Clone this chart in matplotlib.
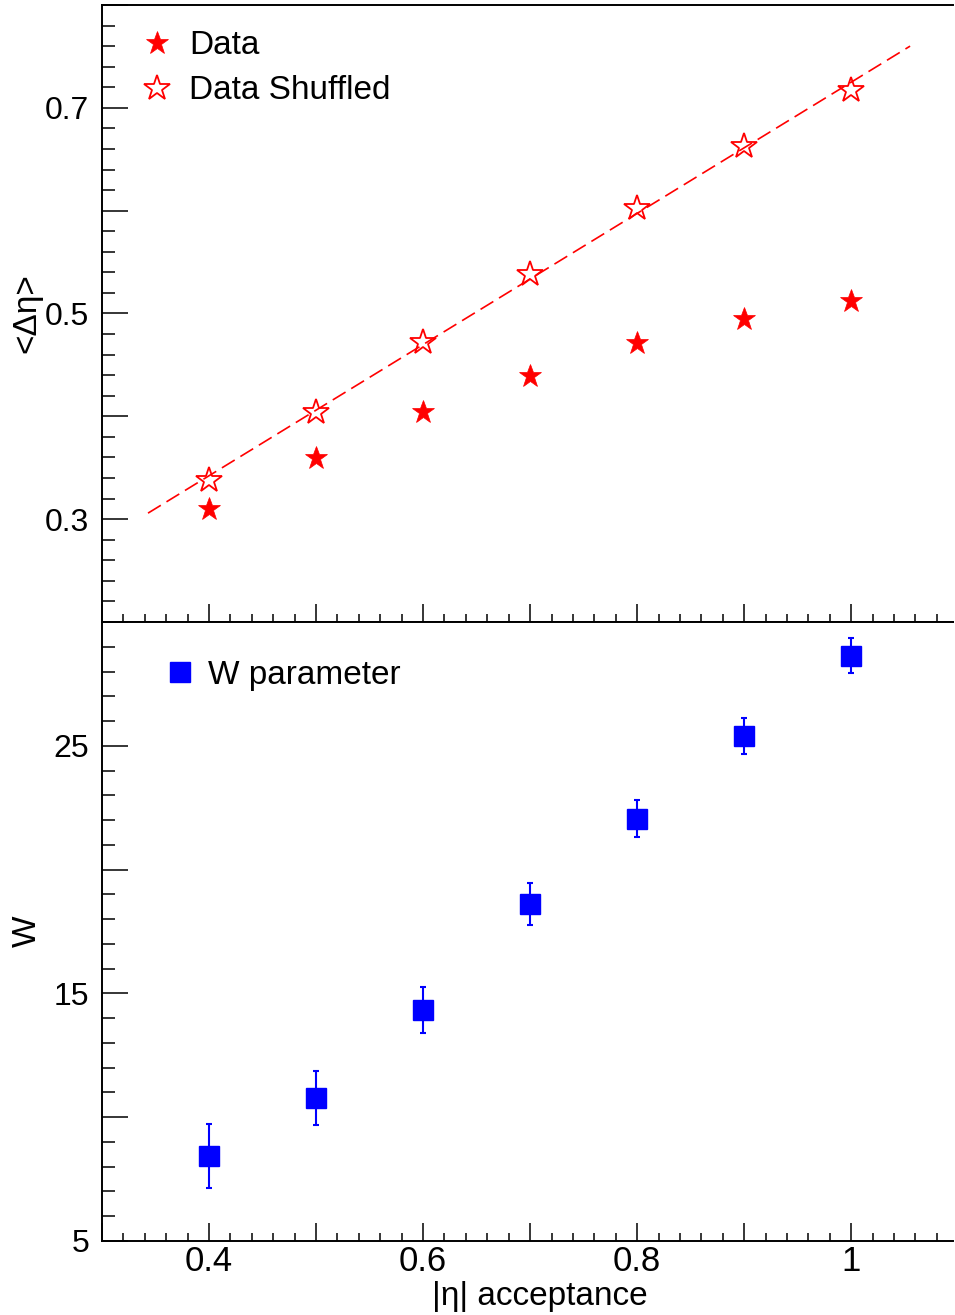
import numpy as np
import matplotlib
matplotlib.use('Agg')
import matplotlib.pyplot as plt
from matplotlib.lines import Line2D
from matplotlib.ticker import MultipleLocator, FuncFormatter

plt.rcParams['font.family'] = ['Liberation Sans', 'DejaVu Sans']

# |eta| acceptance
eta_acc = [0.4, 0.5, 0.6, 0.7, 0.8, 0.9, 1.0]

# <delta eta>
deta_data = [0.310, 0.359, 0.404, 0.439, 0.471, 0.495, 0.512]
deta_shuffled = [0.338, 0.404, 0.472, 0.538, 0.603, 0.663, 0.717]
fit_range = [0.343, 1.055]

# W parameter
w_vals = [8.43, 10.78, 14.33, 18.62, 22.05, 25.40, 28.64]
w_errs = [1.30, 1.10, 0.92, 0.85, 0.75, 0.73, 0.70]

RED = '#ff0000'
BLUE = '#0000ff'

fig = plt.figure(figsize=(9.55, 13.15), dpi=100)
ax1 = fig.add_axes([0.1068, 0.527, 0.891, 0.4692])
ax2 = fig.add_axes([0.1068, 0.0563, 0.891, 0.4707], sharex=ax1)

# --- top panel ---
ax1.plot(eta_acc, deta_data, linestyle='none', marker='*', markersize=17,
         color=RED, markeredgewidth=0.5, label='Data')
ax1.plot(eta_acc, deta_shuffled, linestyle='none', marker='*', markersize=19,
         markerfacecolor='none', markeredgecolor=RED, markeredgewidth=1.3,
         label='Data Shuffled')
coef = np.polyfit(eta_acc, deta_shuffled, 1)
xf = np.array(fit_range)
ax1.plot(xf, np.polyval(coef, xf), color=RED, linestyle=(0, (9, 4)), linewidth=1.2)

ax1.set_ylim(0.2, 0.8)
ax1.yaxis.set_major_locator(MultipleLocator(0.1))
ax1.yaxis.set_minor_locator(MultipleLocator(0.02))
ax1.yaxis.set_major_formatter(FuncFormatter(
    lambda v, p: ('%.1f' % v) if round(v * 10) % 2 == 1 else ''))
ax1.set_ylabel('<Δη>', fontsize=24)
ax1.yaxis.set_label_coords(-0.07, 0.5)

ax1.legend(loc='upper left', bbox_to_anchor=(0.018, 0.997), frameon=False,
           fontsize=24, handlelength=1.0, handletextpad=0.45,
           labelspacing=0.42, borderpad=0.2)

# --- bottom panel ---
ax2.errorbar(eta_acc, w_vals, yerr=w_errs, fmt='s', color=BLUE, markersize=14,
             elinewidth=1.5, capsize=2.5, capthick=1.5)
w_handle = Line2D([], [], linestyle='none', marker='s', color=BLUE, markersize=14)
ax2.legend([w_handle], ['W parameter'], loc='upper left',
           bbox_to_anchor=(0.052, 0.977), frameon=False,
           fontsize=24, handlelength=0.6, handletextpad=0.55, borderpad=0.2)

ax2.set_ylim(5, 30)
ax2.yaxis.set_major_locator(MultipleLocator(5))
ax2.yaxis.set_minor_locator(MultipleLocator(1))
ax2.yaxis.set_major_formatter(FuncFormatter(
    lambda v, p: ('%d' % v) if round(v) % 10 == 5 else ''))
ax2.set_ylabel('W', fontsize=24)
ax2.yaxis.set_label_coords(-0.07, 0.5)

ax2.set_xlim(0.3, 1.095)
ax2.xaxis.set_major_locator(MultipleLocator(0.1))
ax2.xaxis.set_minor_locator(MultipleLocator(0.02))
ax2.xaxis.set_major_formatter(FuncFormatter(
    lambda v, p: ('%g' % round(v, 1)) if round(v * 10) % 2 == 0 else ''))
ax2.set_xlabel('|η| acceptance', fontsize=24)
ax2.xaxis.set_label_coords(0.515, -0.064)

for ax in (ax1, ax2):
    ax.spines['right'].set_visible(False)
    for s in ('left', 'top', 'bottom'):
        ax.spines[s].set_linewidth(1.4)
    ax.tick_params(axis='x', which='major', direction='in', length=13, width=1.1,
                   top=False, pad=3, labelsize=25)
    ax.tick_params(axis='x', which='minor', direction='in', length=6, width=1.1,
                   top=False)
    ax.tick_params(axis='y', which='major', direction='in', length=19, width=1.1,
                   right=False, pad=9, labelsize=23)
    ax.tick_params(axis='y', which='minor', direction='in', length=9.5, width=1.1,
                   right=False)

plt.setp(ax1.get_xticklabels(), visible=False)

fig.savefig('out.png', dpi=100)
